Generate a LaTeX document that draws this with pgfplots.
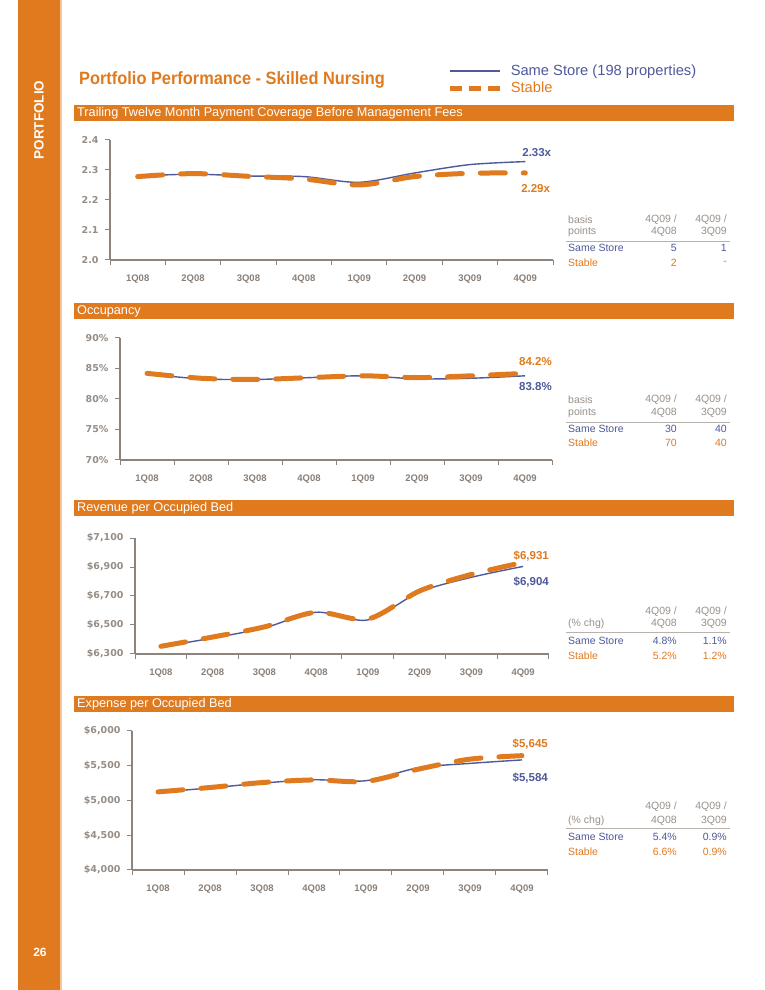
\documentclass[border=0pt]{standalone}
\usepackage{fontspec}
\setmainfont{Liberation Sans}
\newfontfamily\narrowbold[FakeStretch=0.92]{Liberation Sans}
\newfontfamily\tickfont{DejaVu Sans}
\usepackage{pgfplots}
\pgfplotsset{compat=1.18}

\definecolor{orng}{HTML}{E07A1F}
\definecolor{ssblue}{HTML}{4E5A9B}
\definecolor{axgray}{HTML}{8E847B}
\definecolor{txgray}{HTML}{8A8078}
\definecolor{hdgray}{HTML}{9A918A}
\definecolor{peach}{HTML}{F4C59B}

\pgfplotsset{
 pp/.style={
  scale only axis, clip=false,
  xmin=0.5, xmax=8.5,
  axis lines=left,
  axis line style={-, draw=axgray, line width=1.1pt},
  tick style={draw=axgray, line width=1pt},
  tick align=outside, major tick length=5pt,
  xtick={0.5,1.5,...,8.5},
  xticklabels={1Q08,2Q08,3Q08,4Q08,1Q09,2Q09,3Q09,4Q09},
  x tick label as interval,
  xticklabel style={font=\fontsize{9.5}{11}\selectfont\bfseries, text=txgray, yshift=-6pt},
  yticklabel style={font=\tickfont\bfseries\fontsize{9.5}{12}\selectfont, text=txgray!90, xshift=-3pt},
 },
 ss/.style={ssblue, line width=1.4pt, smooth, no markers},
 st/.style={orng, line width=5pt, smooth, no markers, line cap=round, dash pattern=on 25pt off 18pt},
}
\tikzset{endlab/.style={anchor=east, inner sep=0pt, font=\bfseries\fontsize{11.5}{12}\selectfont}}

\newcommand{\trow}[5]{%
 \node[anchor=west,inner sep=0pt,text=#2,font=\fontsize{10.5}{12}\selectfont] at (568,990-#1) {#3};
 \node[anchor=east,inner sep=0pt,text=#2,font=\fontsize{10.5}{12}\selectfont] at (677,990-#1) {#4};
 \node[anchor=east,inner sep=0pt,text=#2,font=\fontsize{10.5}{12}\selectfont] at (727,990-#1) {#5};}
\newcommand{\secbar}[2]{%
 \fill[orng] (74,990-#1-8) rectangle (734,990-#1+8);
 \node[anchor=west,inner sep=0pt,text=white,font=\fontsize{12.7}{14}\selectfont] at (77,990-#1) {#2};}

\begin{document}
\begin{tikzpicture}[x=1pt,y=1pt]
\useasboundingbox (0,0) rectangle (765,990);
\fill[white] (0,0) rectangle (765,990);
\fill[orng] (18,0) rectangle (60,990);
\fill[peach] (60,0) rectangle (61.5,990);
\node[rotate=90, text=white, inner sep=0pt, font=\bfseries\fontsize{13.5}{14}\selectfont] at (39,990-120) {PORTFOLIO};
\node[text=white, inner sep=0pt, font=\bfseries\fontsize{12}{12}\selectfont] at (40,990-952.5) {26};
\node[anchor=base west, inner sep=0pt, text=orng, font=\narrowbold\bfseries\fontsize{17.8}{18}\selectfont] at (79,990-85) {Portfolio Performance - Skilled Nursing};

\secbar{113}{Trailing Twelve Month Payment Coverage Before Management Fees}
\secbar{311}{Occupancy}
\secbar{508}{Revenue per Occupied Bed}
\secbar{704}{Expense per Occupied Bed}

% ---------- Chart 1 ----------
\begin{axis}[pp, at={(110pt,730pt)}, anchor=south west, width=443pt, height=120pt,
  ymin=2.0, ymax=2.4, ytick={2.0,2.1,2.2,2.3,2.4},
  yticklabels={2.0,2.1,2.2,2.3,2.4},
  legend image code/.code={\draw[#1] (0pt,0pt) -- (50pt,0pt); \path (58pt,0pt);},
  legend style={at={(axis description cs:0.762,1.627)}, anchor=north west, draw=none, fill=none,
    inner sep=0pt, row sep=5pt, font=\fontsize{14.7}{16}\selectfont,
    nodes={inner sep=0pt}},
  legend cell align=left]
\addlegendimage{ssblue, line width=1.2pt}
\addlegendentry{\textcolor{ssblue}{Same Store (198 properties)}}
\addlegendimage{orng, line width=5pt, dash pattern=on 12pt off 7pt}
\addlegendentry{\textcolor{orng}{Stable}}
\addplot[ss, forget plot] coordinates {(1,2.280)(2,2.286)(3,2.280)(4,2.278)(5,2.259)(6,2.290)(7,2.318)(8,2.328)};
\addplot[st, forget plot] coordinates {(1,2.278)(2,2.288)(3,2.279)(4,2.270)(5,2.250)(6,2.278)(7,2.289)(8,2.290)};
\node[endlab, text=ssblue] at (axis cs:8.47,2.357) {2.33x};
\node[endlab, text=orng] at (axis cs:8.45,2.237) {2.29x};
\end{axis}

% ---------- Chart 2 ----------
\begin{axis}[pp, at={(120pt,530pt)}, anchor=south west, width=432pt, height=122pt,
  ymin=70, ymax=90, ytick={70,75,80,85,90},
  yticklabels={70\%,75\%,80\%,85\%,90\%}]
\addplot[ss] coordinates {(1,84.1)(2,83.3)(3,83.2)(4,83.5)(5,83.8)(6,83.3)(7,83.4)(8,83.8)};
\addplot[st] coordinates {(1,84.2)(2,83.4)(3,83.2)(4,83.5)(5,83.8)(6,83.5)(7,83.8)(8,84.2)};
\node[endlab, text=orng] at (axis cs:8.5,86.07) {84.2\%};
\node[endlab, text=ssblue] at (axis cs:8.5,81.97) {83.8\%};
\end{axis}

% ---------- Chart 3 ----------
\begin{axis}[pp, at={(135pt,336pt)}, anchor=south west, width=414pt, height=116pt,
  ymin=6300, ymax=7100, ytick={6300,6500,6700,6900,7100},
  yticklabels={\$6{,}300,\$6{,}500,\$6{,}700,\$6{,}900,\$7{,}100}]
\addplot[ss] coordinates {(1,6350)(2,6410)(3,6480)(4,6588)(5,6535)(6,6728)(7,6829)(8,6904)};
\addplot[st] coordinates {(1,6353)(2,6417)(3,6487)(4,6588)(5,6541)(6,6735)(7,6849)(8,6931)};
\node[endlab, text=orng] at (axis cs:8.5,6976) {\$6,931};
\node[endlab, text=ssblue] at (axis cs:8.5,6797) {\$6,904};
\end{axis}

% ---------- Chart 4 ----------
\begin{axis}[pp, at={(132pt,120pt)}, anchor=south west, width=416pt, height=139pt,
  ymin=4000, ymax=6000, ytick={4000,4500,5000,5500,6000},
  yticklabels={\$4{,}000,\$4{,}500,\$5{,}000,\$5{,}500,\$6{,}000}]
\addplot[ss] coordinates {(1,5120)(2,5180)(3,5250)(4,5298)(5,5285)(6,5470)(7,5534)(8,5584)};
\addplot[st] coordinates {(1,5124)(2,5187)(3,5258)(4,5296)(5,5275)(6,5450)(7,5595)(8,5645)};
\node[endlab, text=orng] at (axis cs:8.5,5813) {\$5,645};
\node[endlab, text=ssblue] at (axis cs:8.5,5324) {\$5,584};
\end{axis}

% ---------- Tables ----------
\trow{220}{hdgray}{basis}{4Q09 /}{4Q09 /}
\trow{232}{hdgray}{points}{4Q08}{3Q09}
\draw[hdgray!70, line width=0.8pt] (566,990-241) -- (730,990-241);
\trow{248}{ssblue}{Same Store}{5}{1}
\trow{263}{orng}{Stable}{2}{-}

\trow{400}{hdgray}{basis}{4Q09 /}{4Q09 /}
\trow{413}{hdgray}{points}{4Q08}{3Q09}
\draw[hdgray!70, line width=0.8pt] (566,990-422) -- (730,990-422);
\trow{429}{ssblue}{Same Store}{30}{40}
\trow{443}{orng}{Stable}{70}{40}

\trow{612}{hdgray}{}{4Q09 /}{4Q09 /}
\trow{624}{hdgray}{(\% chg)}{4Q08}{3Q09}
\draw[hdgray!70, line width=0.8pt] (566,990-632) -- (730,990-632);
\trow{641}{ssblue}{Same Store}{4.8\%}{1.1\%}
\trow{656}{orng}{Stable}{5.2\%}{1.2\%}

\trow{807}{hdgray}{}{4Q09 /}{4Q09 /}
\trow{821}{hdgray}{(\% chg)}{4Q08}{3Q09}
\draw[hdgray!70, line width=0.8pt] (566,990-828) -- (730,990-828);
\trow{837}{ssblue}{Same Store}{5.4\%}{0.9\%}
\trow{852}{orng}{Stable}{6.6\%}{0.9\%}
\end{tikzpicture}
\end{document}
